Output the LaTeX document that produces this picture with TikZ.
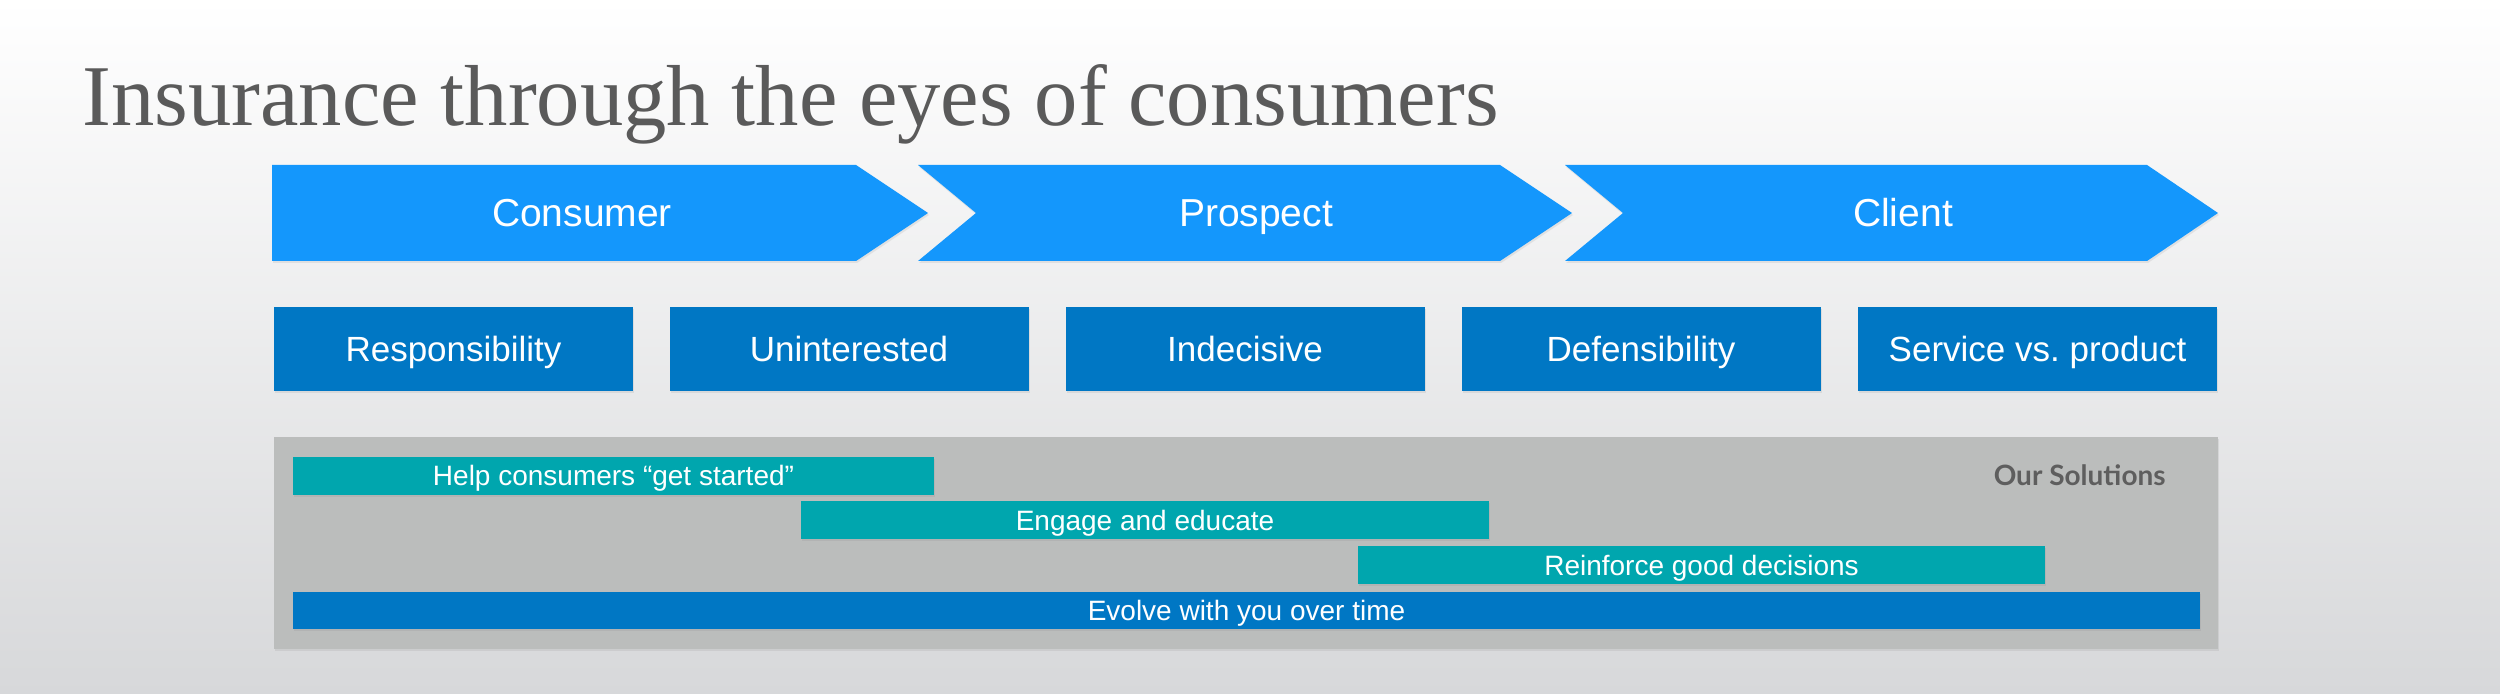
\documentclass[tikz,border=0pt]{standalone}
\usepackage{fontspec}
\setmainfont{Liberation Sans}
\newfontfamily\titlefont{Liberation Serif}
\newfontfamily\tagfont{Lato}
\usetikzlibrary{shadows}
\definecolor{phaseblue}{RGB}{20,151,252}
\definecolor{issueblue}{RGB}{0,119,196}
\definecolor{solteal}{RGB}{0,166,174}
\definecolor{panelgray}{RGB}{187,189,188}
\definecolor{titlegray}{RGB}{90,90,90}
\definecolor{taggray}{RGB}{94,94,94}
\definecolor{bgbottom}{RGB}{215,216,218}
\tikzset{
	softshadow/.style={drop shadow={opacity=0.15, shadow xshift=0.5pt, shadow yshift=-1pt}},
	phase/.style={fill=phaseblue, softshadow},
	phasetext/.style={text=white, inner sep=0pt, font=\fontsize{19.5}{23}\selectfont, text height=14pt, text depth=0pt},
	issue/.style={fill=issueblue, softshadow, text=white, inner sep=0pt, minimum width=179.5pt, minimum height=42pt, font=\fontsize{17.5}{21}\selectfont, text height=12.5pt, text depth=0pt},
	solution/.style={fill=solteal, softshadow, text=white, inner sep=0pt, minimum height=19pt, font=\fontsize{14}{17}\selectfont, text height=10pt, text depth=0pt},
}

\begin{document}
\begin{tikzpicture}[x=0.5pt, y=-0.5pt]
		%%%%% START %%%%%
		
		\useasboundingbox (0, 0) rectangle (2500, 694);
		\shade[top color=white, bottom color=bgbottom] (0, 0) rectangle (2500, 694);
		
		\node[anchor=base west, inner sep=0pt, text=titlegray, font=\titlefont\fontsize{43.3}{52}\selectfont] (title) at (82, 126) {Insurance through the eyes of consumers};
		
		\fill[phase] (272, 165) -- (856, 165) -- (928, 213) -- (856, 261) -- (272, 261) -- cycle;
		\fill[phase] (918, 165) -- (1500, 165) -- (1572, 213) -- (1500, 261) -- (918, 261) -- (976, 213) -- cycle;
		\fill[phase] (1565, 165) -- (2147, 165) -- (2218, 213) -- (2147, 261) -- (1565, 261) -- (1623, 213) -- cycle;
		\node[phasetext] (consumer) at (582, 213) {Consumer};
		\node[phasetext] (prospect) at (1256, 213) {Prospect};
		\node[phasetext] (client) at (1903, 213) {Client};
		
		\node[issue] (responsibility) at (453.5, 349) {Responsibility};
		\node[issue] (uninterested) at (849, 349) {Uninterested};
		\node[issue] (indecisive) at (1245, 349) {Indecisive};
		\node[issue] (defensibility) at (1641, 349) {Defensibility};
		\node[issue] (service) at (2037.5, 349) {Service vs.\ product};
		
		\fill[panelgray, softshadow] (274, 437) rectangle (2218, 649);
		\node[anchor=base east, inner sep=0pt, text=taggray, font=\tagfont\bfseries\fontsize{14}{17}\selectfont] (oursolutions) at (2166, 486) {Our Solutions};
		
		\node[solution, minimum width=320.5pt] (getstarted) at (613.5, 476) {Help consumers “get started”};
		\node[solution, minimum width=344pt] (educate) at (1145, 520.5) {Engage and educate};
		\node[solution, minimum width=343.5pt] (reinforce) at (1701.5, 565.5) {Reinforce good decisions};
		\node[solution, fill=issueblue, minimum width=953.5pt, minimum height=18.5pt] (evolve) at (1246.5, 610.5) {Evolve with you over time};
		
		%%%%% END %%%%%
\end{tikzpicture}
\end{document}
